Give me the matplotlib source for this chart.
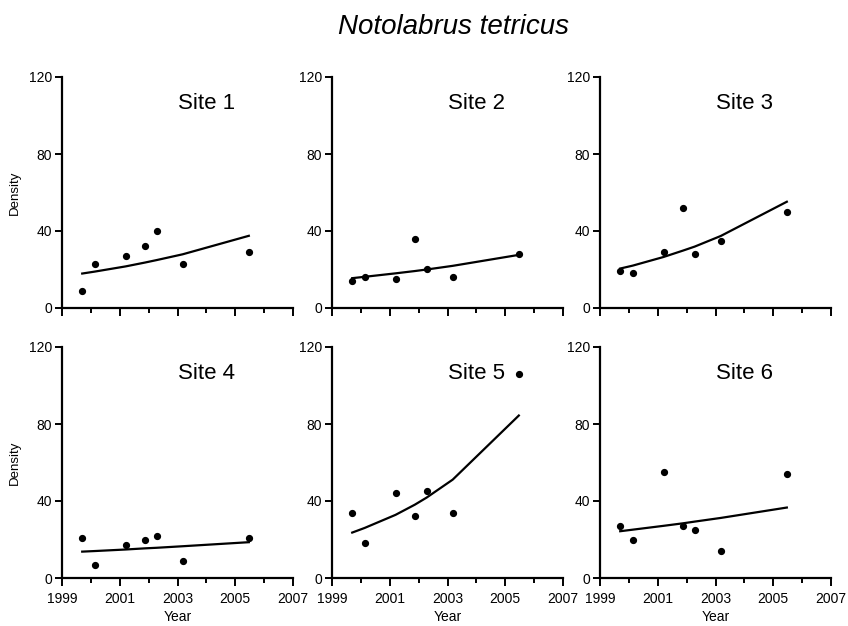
import matplotlib
matplotlib.use("Agg")
import matplotlib.pyplot as plt
import numpy as np

plt.rcParams['font.family'] = ['Liberation Sans', 'DejaVu Sans']

# survey years (same for every site)
years = [1999.7, 2000.13, 2001.2, 2001.87, 2002.28, 2003.18, 2005.47]

sites = ["Site 1", "Site 2", "Site 3", "Site 4", "Site 5", "Site 6"]

# observed density per site
obs1 = [9, 23, 27, 32, 40, 23, 29]
obs2 = [14, 16, 15, 36, 20, 16, 28]
obs3 = [19, 18, 29, 52, 28, 35, 50]
obs4 = [21, 7, 17, 20, 22, 9, 21]
obs5 = [34, 18, 44, 32, 45, 34, 106]
obs6 = [27, 20, 55, 27, 25, 14, 54]

# fitted trend per site
fit1 = [17.9, 18.9, 21.6, 23.6, 24.9, 27.9, 37.5]
fit2 = [15.5, 16.2, 18.0, 19.2, 20.0, 21.9, 27.6]
fit3 = [20.5, 22.0, 26.5, 29.8, 31.9, 37.4, 55.2]
fit4 = [13.7, 14.0, 14.8, 15.4, 15.7, 16.5, 18.6]
fit5 = [23.6, 26.0, 32.8, 38.1, 41.8, 51.1, 84.4]
fit6 = [24.3, 25.1, 27.1, 28.4, 29.3, 31.2, 36.6]

major_years = [1999, 2001, 2003, 2005, 2007]
minor_years = [2000, 2002, 2004, 2006]

observed = [obs1, obs2, obs3, obs4, obs5, obs6]
fitted = [fit1, fit2, fit3, fit4, fit5, fit6]

fig = plt.figure(figsize=(8.48, 6.26), dpi=100)

lefts = [62, 332, 600]
bottoms = [308, 578]
W = 848.0
H = 626.0
aw = 231

for i in range(6):
    row = i // 3
    col = i % 3
    ax = fig.add_axes([lefts[col] / W, 1 - bottoms[row] / H, aw / W, aw / H])
    ax.plot(years, fitted[i], color='black', lw=1.6)
    ax.plot(years, observed[i], 'o', color='black', ms=4.2, clip_on=False)
    ax.set_xlim(1999, 2007)
    ax.set_ylim(0, 120)
    ax.set_yticks([0, 40, 80, 120])
    ax.set_xticks(major_years)
    ax.set_xticks(minor_years, minor=True)
    if row == 1:
        ax.set_xlabel("Year", fontsize=10, labelpad=3)
    else:
        ax.set_xticklabels([])
    if col == 0:
        ax.set_ylabel("Density", fontsize=9.5, labelpad=6)
    for s in ['top', 'right']:
        ax.spines[s].set_visible(False)
    for s in ['left', 'bottom']:
        ax.spines[s].set_linewidth(1.6)
    ax.tick_params(which='major', width=1.4, length=5, labelsize=10, pad=2)
    ax.tick_params(axis='x', which='major', length=6, pad=4)
    ax.tick_params(axis='x', which='minor', width=1.4, length=3.5)
    ax.text(2004.0, 106, sites[i], fontsize=16, ha='center', va='center')

fig.text(453 / W, 1 - 27 / H, "Notolabrus tetricus", fontsize=20, style='italic',
         ha='center', va='center')

fig.savefig("out.png", dpi=100)
